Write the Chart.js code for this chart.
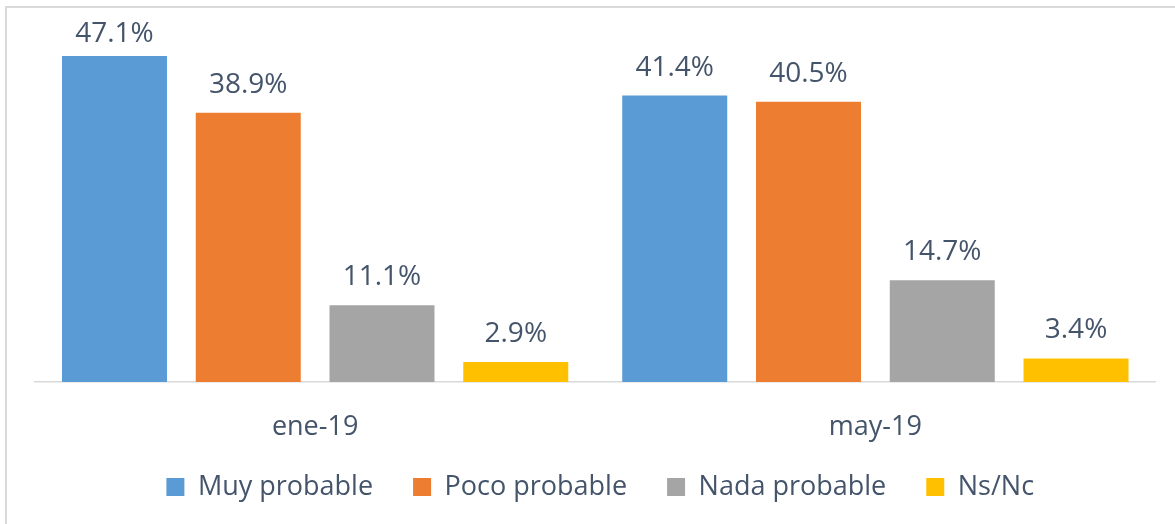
<!DOCTYPE html>
<html>
<head>
<meta charset="utf-8">
<script src="https://cdn.jsdelivr.net/npm/chart.js@4"></script>
<style>
  html, body { margin: 0; padding: 0; background: #ffffff; overflow: hidden; }
  #wrap { position: relative; width: 1175px; height: 524px; }
  #frame { position: absolute; left: 5px; top: 6px; width: 1300px; height: 600px;
           border-top: 2px solid #d9d9d9; border-left: 2px solid #d9d9d9; box-sizing: border-box; }
  canvas { position: absolute; left: 0; top: 0; }
</style>
</head>
<body>
<div id="wrap">
  <div id="frame"></div>
  <canvas id="c" width="1175" height="524"></canvas>
</div>
<script>
const categories = ['ene-19', 'may-19'];
const seriesNames = ['Muy probable', 'Poco probable', 'Nada probable', 'Ns/Nc'];
const muyProbable = [47.1, 41.4];
const pocoProbable = [38.9, 40.5];
const nadaProbable = [11.1, 14.7];
const nsNc = [2.9, 3.4];
const seriesColors = ['#5B9BD5', '#ED7D31', '#A5A5A5', '#FFC000'];

const TEXT = '#44546A';
const FONT = '"Open Sans", "DejaVu Sans", sans-serif';

const valueLabels = {
  id: 'valueLabels',
  afterDatasetsDraw(chart) {
    const ctx = chart.ctx;
    const top = chart.chartArea.top;
    ctx.save();
    ctx.font = '28px ' + FONT;
    ctx.fillStyle = TEXT;
    ctx.textAlign = 'center';
    ctx.textBaseline = 'alphabetic';
    chart.data.datasets.forEach((ds, i) => {
      const meta = chart.getDatasetMeta(i);
      meta.data.forEach((bar, j) => {
        const y = Math.max(bar.y - 20, top + 6);
        ctx.fillText(ds.data[j].toFixed(1) + '%', bar.x, y);
      });
    });
    ctx.restore();
  }
};

// Let the category labels overflow into the legend's top padding (no clipping),
// and nudge the legend slightly to the right.
const layoutTweaks = {
  id: 'layoutTweaks',
  afterLayout(chart) {
    const x = chart.scales.x;
    x.bottom += 30; x.height += 30;
    const lg = chart.legend;
    if (lg) { lg.left += 5; lg.right += 5; }
  }
};

function draw() {
  const series = [muyProbable, pocoProbable, nadaProbable, nsNc];
  new Chart(document.getElementById('c'), {
    type: 'bar',
    data: {
      labels: categories,
      datasets: series.map((d, i) => ({
        label: seriesNames[i],
        data: d,
        backgroundColor: seriesColors[i],
        borderWidth: 0,
        barPercentage: 0.785,
        categoryPercentage: 0.955
      }))
    },
    options: {
      responsive: false,
      animation: false,
      layout: { padding: { left: 35, right: 19.5, top: 36, bottom: 13.5 } },
      scales: {
        x: {
          grid: { display: false, drawTicks: false },
          border: { display: true, color: '#d9d9d9', width: 1.5 },
          ticks: { color: TEXT, font: { family: FONT, size: 27 }, padding: 29 },
          afterFit(scale) { scale.height = 51.5; }
        },
        y: {
          display: false,
          min: 0,
          max: 50
        }
      },
      plugins: {
        legend: {
          position: 'bottom',
          labels: {
            boxWidth: 18,
            boxHeight: 18,
            padding: 40,
            color: TEXT,
            font: { family: FONT, size: 27 }
          }
        },
        tooltip: { enabled: false }
      }
    },
    plugins: [valueLabels, layoutTweaks]
  });
}

if (document.fonts && document.fonts.load) {
  document.fonts.load('28px "Open Sans"').then(draw, draw);
} else {
  draw();
}
</script>
</body>
</html>
